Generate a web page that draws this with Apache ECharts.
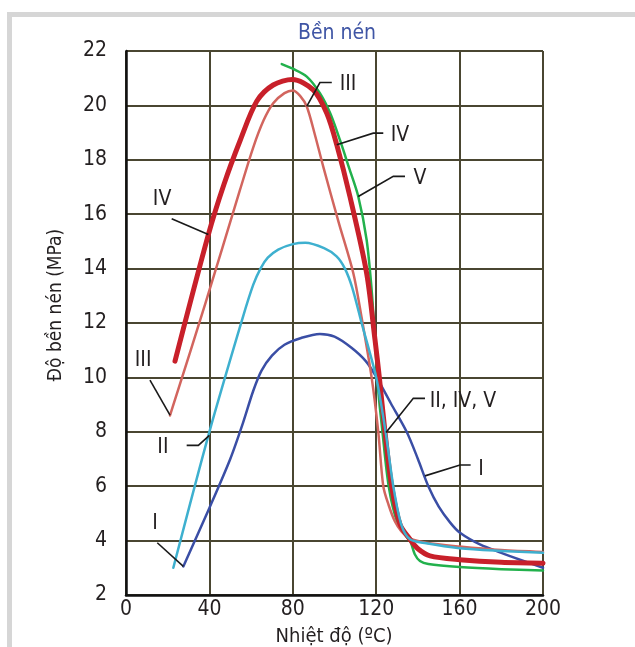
<!DOCTYPE html>
<html>
<head>
<meta charset="utf-8">
<script src="https://cdn.jsdelivr.net/npm/echarts@6/dist/echarts.min.js"></script>
<style>
  html, body { margin: 0; padding: 0; background: #fff; }
  #chart { width: 635px; height: 647px; }
</style>
</head>
<body>
<div id="chart"></div>
<script>
const FONT = '"Liberation Sans Narrow", "DejaVu Sans Condensed", sans-serif'

// [nhiệt độ °C, độ bền nén MPa]
const curveI = [[27.5,3.05],[40,5.2],[50,7],[56,8.3],[61,9.5],[65,10.25],[70,10.8],[76,11.2],[84,11.45],[93,11.6],[100,11.5],[108,11.1],[115,10.6],[120.2,10.0],[127,9.05],[134.6,8],[140,7.0],[145,6.0],[150,5.25],[155.4,4.67],[160,4.3],[170,3.85],[180,3.55],[190,3.27],[200,3.0]]
const curveII = [[22.7,3.0],[40,8],[56,12.2],[61,13.4],[64.5,14.0],[68,14.4],[73,14.7],[80,14.9],[86,14.95],[95,14.75],[101,14.45],[105,14.0],[108.5,13.3],[113,12],[120,10.0],[124.5,8],[128.2,6],[132,4.6],[136.2,4.05],[144,3.9],[160,3.72],[180,3.62],[200,3.55]]
const curveIII = [[21.1,8.6],[38,12.7],[54.7,16.9],[61,18.45],[66,19.45],[70.6,20.08],[76,20.45],[80,20.55],[83.5,20.35],[86.7,19.96],[90.5,18.95],[94.6,17.75],[102,15.7],[109,13.84],[113,12.2],[117.8,10],[121,8],[123.4,6],[126,5.3],[129,4.7],[132,4.35],[136.2,4.08],[144,3.92],[160,3.78],[180,3.65],[200,3.58]]
const curveIV = [[23.5,10.6],[39.5,15.25],[47,17.1],[54.7,18.7],[62.7,20.15],[70.6,20.75],[79.8,20.95],[89.8,20.57],[96.3,19.71],[101.1,18.55],[107.4,16.65],[115.4,13.84],[119.4,11.4],[121.5,10],[124.2,8],[127.4,6],[131.4,4.6],[136.2,4.05],[140,3.7],[145.8,3.44],[160,3.3],[180,3.2],[200,3.17]]
const curveV = [[74.7,21.52],[80,21.35],[86.7,21.06],[93,20.45],[98,19.7],[102.6,18.73],[107,17.7],[111.4,16.65],[115.4,15.06],[117.8,13.23],[119.4,11.4],[121,9.5],[123,8],[126,6],[130,4.7],[134.5,4.15],[136.5,3.95],[138.5,3.5],[141,3.25],[145,3.14],[160,3.03],[180,2.95],[200,2.9]]

const xTicks = { min: 0, max: 200, step: 40 }
const yTicks = { min: 2, max: 22, step: 2 }

// nhãn đường cong và đường dẫn (toạ độ dữ liệu)
const labelNames = ['III', 'IV', 'V', 'IV', 'III', 'II', 'I', 'II, IV, V', 'I']
const labelPos = [[106.5,20.75],[131.4,18.88],[141,17.3],[17.3,16.53],[8.2,10.62],[17.7,7.43],[13.9,4.61],[161.6,9.12],[170.3,6.62]]
const leaders = [
  [[86.7,19.96],[93.0,20.84],[98.7,20.84]],
  [[101.1,18.55],[118.6,18.98],[123.4,18.98]],
  [[111.4,16.65],[128.2,17.39],[133.8,17.39]],
  [[21.9,15.83],[39.5,15.25]],
  [[11.5,9.9],[21.1,8.61]],
  [[29.1,7.5],[34.7,7.5],[40,7.87]],
  [[15,3.92],[27.5,3.05]],
  [[124.7,7.97],[137.8,9.23],[143.4,9.23]],
  [[143.4,6.38],[160.2,6.78],[165.3,6.78]]
]

const gridColor = '#4a4631'
const textColor = '#231f20'

function curve(name, data, color, width, z) {
  return {
    name, type: 'line', data, smooth: 0.3, symbol: 'none', z,
    lineStyle: { color, width, cap: 'round', join: 'round' }
  }
}

const chart = echarts.init(document.getElementById('chart'))
chart.setOption({
  animation: false,
  backgroundColor: '#fff',
  grid: { left: 126, right: 92, top: 51, bottom: 52 },
  xAxis: {
    type: 'value', min: xTicks.min, max: xTicks.max, interval: xTicks.step,
    axisLine: { show: true, onZero: false, lineStyle: { color: '#111', width: 2.5 } },
    axisTick: { show: false },
    axisLabel: { color: textColor, fontFamily: FONT, fontSize: 21, margin: 4 },
    splitLine: { show: true, lineStyle: { color: gridColor, width: 2 } }
  },
  yAxis: {
    type: 'value', min: yTicks.min, max: yTicks.max, interval: yTicks.step,
    axisLine: { show: true, onZero: false, lineStyle: { color: '#111', width: 2.5 } },
    axisTick: { show: false },
    axisLabel: { color: textColor, fontFamily: FONT, fontSize: 21, margin: 19 },
    splitLine: { show: true, lineStyle: { color: gridColor, width: 2 } }
  },
  graphic: [
    { type: 'rect', silent: true, shape: { x: 9.5, y: 14.5, width: 700, height: 700 },
      style: { fill: null, stroke: '#d6d6d6', lineWidth: 5 } },
    { type: 'line', silent: true, shape: { x1: 543, y1: 51, x2: 543, y2: 595 },
      style: { stroke: gridColor, lineWidth: 2 } },
    { type: 'text', x: 337, y: 34, style: { text: 'Bền nén', fill: '#3f55a5', fontFamily: FONT, fontSize: 21, textAlign: 'center', textVerticalAlign: 'middle' } },
    { type: 'text', x: 334, y: 637, style: { text: 'Nhiệt độ (ºC)', fill: textColor, fontFamily: FONT, fontSize: 20, textAlign: 'center', textVerticalAlign: 'middle' } },
    { type: 'text', x: 56, y: 305, rotation: Math.PI / 2, style: { text: 'Độ bền nén (MPa)', fill: textColor, fontFamily: FONT, fontSize: 19, textAlign: 'center', textVerticalAlign: 'middle' } }
  ],
  series: [
    curve('V', curveV, '#22b14c', 2.5, 2),
    curve('I', curveI, '#3a4ea5', 2.5, 3),
    curve('III', curveIII, '#d2655e', 2.5, 4),
    curve('IV', curveIV, '#c8202a', 5, 5),
    curve('II', curveII, '#3eb0cf', 2.5, 6),
    {
      type: 'lines', coordinateSystem: 'cartesian2d', polyline: true, z: 7, silent: true,
      lineStyle: { color: '#1a1a1a', width: 1.6, opacity: 1 },
      data: leaders.map((coords) => ({ coords }))
    },
    {
      type: 'scatter', symbolSize: 0, z: 8, silent: true,
      itemStyle: { opacity: 1 },
      data: labelPos.map((p, i) => ({ value: p, name: labelNames[i] })),
      label: { show: true, position: 'inside', formatter: '{b}', color: textColor, textBorderWidth: 0, fontFamily: FONT, fontSize: 21 }
    }
  ]
})
</script>
</body>
</html>
